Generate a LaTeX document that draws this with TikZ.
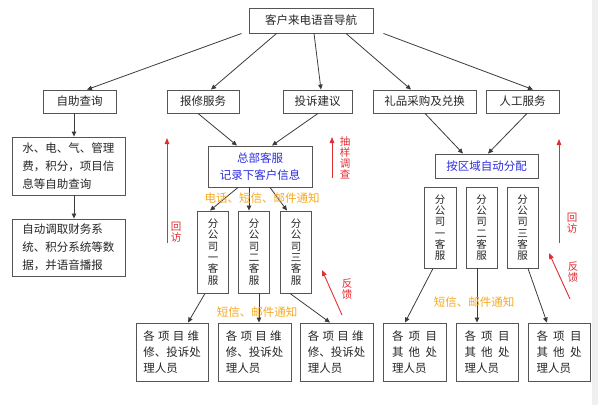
\documentclass[tikz,border=0pt]{standalone}
\usepackage{fontspec}
\setmainfont{Noto Sans CJK SC}
\usetikzlibrary{arrows.meta}
\definecolor{boxgray}{RGB}{85,85,85}
\definecolor{arrgray}{RGB}{60,60,60}
\definecolor{redarr}{RGB}{225,45,50}
\definecolor{bluetxt}{RGB}{45,45,225}
\definecolor{orangetxt}{RGB}{245,170,35}
\tikzset{
  box/.style={draw=boxgray,line width=0.9pt,inner sep=0pt,text=black!85,
    font=\fontsize{11.5}{14}\selectfont},
  multibox/.style={box,align=left,font=\fontsize{11.5}{18}\selectfont},
  personbox/.style={box,align=left,font=\fontsize{11.5}{16}\selectfont,minimum width=73pt,minimum height=58pt},
  otherbox/.style={box,align=left,font=\fontsize{11.5}{16}\selectfont,minimum width=62pt,minimum height=58pt},
  vbox/.style={box,align=center,font=\fontsize{10.5}{11.3}\selectfont,minimum width=31pt},
  conn/.style={draw=arrgray,line width=0.8pt,-{Triangle[length=5pt,width=4.5pt]}},
  redconn/.style={draw=redarr,line width=0.9pt,-{Triangle[length=6pt,width=4.5pt]}},
  redlbl/.style={text=redarr,align=center,inner sep=0pt,font=\fontsize{10.5}{11}\selectfont},
  orlbl/.style={text=orangetxt,inner sep=0pt,font=\fontsize{11.5}{14}\selectfont}
}
\begin{document}
\begin{tikzpicture}[x=1pt,y=-1pt]
\useasboundingbox (0,0) rectangle (598,405);
\fill[white] (0,0) rectangle (598,405);
\fill[black!6] (592,0) rectangle (598,405);

% top
\node[box,minimum width=124pt,minimum height=25pt] (top) at (311,20.5) {客户来电语音导航};
% row 2
\node[box,minimum width=73pt,minimum height=23pt] (zz) at (79.5,101.5) {自助查询};
\node[box,minimum width=72pt,minimum height=23pt] (bx) at (203,101.5) {报修服务};
\node[box,minimum width=69pt,minimum height=23pt] (ts) at (317.5,101.5) {投诉建议};
\node[box,minimum width=103pt,minimum height=23pt] (lp) at (424.5,101.5) {礼品采购及兑换};
\node[box,minimum width=73pt,minimum height=23pt] (rg) at (522.5,101.5) {人工服务};

% left column
\node[multibox,minimum width=113pt,minimum height=58pt] (q1) at (68.5,166) {水、电、气、管理\\费，积分，项目信\\息等自助查询};
\node[multibox,minimum width=113pt,minimum height=57pt] (q2) at (68.5,247.5) {自动调取财务系\\统、积分系统等数\\据，并语音播报};

% middle
\node[box,align=center,text=bluetxt,minimum width=104pt,minimum height=41pt,font=\fontsize{11.5}{17}\selectfont] (hq) at (260,166.5) {总部客服\\记录下客户信息};
\node[vbox,minimum height=82pt] (f1) at (213,252) {分\\公\\司\\一\\客\\服};
\node[vbox,minimum height=82pt] (f2) at (254,252) {分\\公\\司\\二\\客\\服};
\node[vbox,minimum height=82pt] (f3) at (296,252) {分\\公\\司\\三\\客\\服};
\node[personbox,minimum width=72pt] (p1) at (172,352) {\makebox[56pt][s]{各\hfill 项\hfill 目\hfill 维}\\修、投诉处\\理人员};
\node[personbox] (p2) at (254.5,352) {\makebox[56pt][s]{各\hfill 项\hfill 目\hfill 维}\\修、投诉处\\理人员};
\node[personbox] (p3) at (336.5,352) {\makebox[56pt][s]{各\hfill 项\hfill 目\hfill 维}\\修、投诉处\\理人员};

% right
\node[box,text=bluetxt,minimum width=103pt,minimum height=24pt] (qy) at (486.5,166) {按区域自动分配};
\node[vbox,minimum height=81pt,minimum width=32pt] (g1) at (440,227.5) {分\\公\\司\\一\\客\\服};
\node[vbox,minimum height=81pt] (g2) at (481.5,227.5) {分\\公\\司\\二\\客\\服};
\node[vbox,minimum height=81pt] (g3) at (522.5,227.5) {分\\公\\司\\三\\客\\服};
\node[otherbox,minimum width=63pt] (o1) at (414.5,352) {\makebox[45pt][s]{各\hfill 项\hfill 目}\\\makebox[45pt][s]{其\hfill 他\hfill 处}\\理人员};
\node[otherbox] (o2) at (487,352) {\makebox[45pt][s]{各\hfill 项\hfill 目}\\\makebox[45pt][s]{其\hfill 他\hfill 处}\\理人员};
\node[otherbox] (o3) at (559,352) {\makebox[45pt][s]{各\hfill 项\hfill 目}\\\makebox[45pt][s]{其\hfill 他\hfill 处}\\理人员};

% connectors from top
\draw[conn] ([xshift=-7pt]top.south west) -- ([xshift=7.5pt]zz.north);
\draw[conn] ([xshift=28pt]top.south west) -- ([xshift=8pt]bx.north);
\draw[conn] ([xshift=3pt]top.south) -- ([xshift=3.5pt]ts.north);
\draw[conn] ([xshift=35pt]top.south) -- ([xshift=-13.5pt]lp.north);
\draw[conn] ([xshift=10pt]top.south east) -- ([xshift=10.5pt]rg.north);

% left column
\draw[conn] ([xshift=-5.5pt]zz.south) -- ([xshift=5.5pt]q1.north);
\draw[conn] ([xshift=5.5pt]q1.south) -- ([xshift=5.5pt]q2.north);

% middle
\draw[conn] ([xshift=-5pt]bx.south) -- ([xshift=-23pt]hq.north);
\draw[conn] ([xshift=0.5pt]ts.south) -- ([xshift=12pt]hq.north);
\draw[conn] ([xshift=-22pt]hq.south) -- ([xshift=-3pt]f1.north);
\draw[conn] ([xshift=-11pt]hq.south) -- ([xshift=-5pt]f2.north);
\draw[conn] ([xshift=10pt]hq.south) -- ([xshift=-9pt]f3.north);
\draw[conn] ([xshift=-8pt]f1.south) -- ([xshift=16pt]p1.north);
\draw[conn] ([xshift=5pt]f2.south) -- ([xshift=4.5pt]p2.north);
\draw[conn] ([xshift=-6pt]f3.south) -- ([xshift=-6.5pt]p3.north);

% right
\draw[conn] ([xshift=0.5pt]lp.south) -- ([xshift=-23.5pt]qy.north);
\draw[conn] ([xshift=4.5pt]rg.south) -- ([xshift=1.5pt]qy.north);
\draw[conn] ([xshift=-7pt]g1.south) -- ([xshift=-9.5pt]o1.north);
\draw[conn] ([xshift=-4.5pt]g2.south) -- ([xshift=-10pt]o2.north);
\draw[conn] ([xshift=5.5pt]g3.south) -- ([xshift=-12pt]o3.north);

% orange labels
\node[orlbl] (n1) at (262,198) {电话、短信、邮件通知};
\node[orlbl] (n2) at (257,312) {短信、邮件通知};
\node[orlbl] (n3) at (474,302) {短信、邮件通知};

% red arrows and labels
\coordinate (r1a) at (167,243); \coordinate (r1b) at (167,138);
\coordinate (r2a) at (332,178); \coordinate (r2b) at (332,137);
\coordinate (r3a) at (342,315); \coordinate (r3b) at (322,270);
\coordinate (r4a) at (559,243); \coordinate (r4b) at (559,139);
\coordinate (r5a) at (570,299); \coordinate (r5b) at (549,253);
\draw[redconn] (r1a) -- (r1b);
\draw[redconn] (r2a) -- (r2b);
\draw[redconn] (r3a) -- (r3b);
\draw[redconn] (r4a) -- (r4b);
\draw[redconn] (r5a) -- (r5b);
\node[redlbl] (l1) at (176,232) {回\\访};
\node[redlbl] (l2) at (345,158) {抽\\样\\调\\查};
\node[redlbl] (l3) at (347,289) {反\\馈};
\node[redlbl] (l4) at (572,223) {回\\访};
\node[redlbl] (l5) at (573,272) {反\\馈};
\end{tikzpicture}
\end{document}
